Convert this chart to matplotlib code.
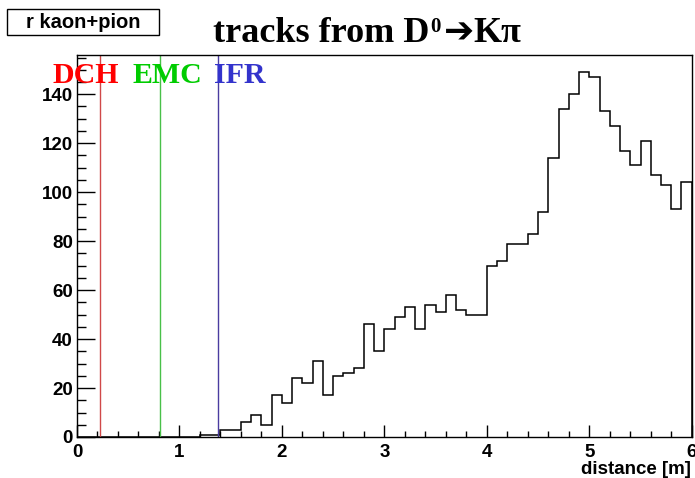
import numpy as np
import matplotlib
matplotlib.use("Agg")
from matplotlib import pyplot as plt
from matplotlib.patches import Rectangle
from matplotlib.ticker import MultipleLocator

# histogram contents, 60 bins of 0.1 m from 0 to 6 m
counts = [0, 0, 0, 0, 0, 0, 0, 0, 0, 0, 0, 0,
          1, 1, 3, 3, 6, 9, 5, 17, 14, 24,
          22, 31, 17, 25, 26, 28, 46, 35, 44, 49,
          53, 44, 54, 51, 58, 52, 50, 50, 70, 72,
          79, 79, 83, 92, 114, 134, 140, 149, 147, 133,
          127, 117, 111, 121, 107, 103, 93, 104]
x_min, x_max = 0.0, 6.0

# detector boundaries [m]
det_names = ['DCH', 'EMC', 'IFR']
det_pos = [0.225, 0.81, 1.38]
det_line_colors = ['#d04848', '#48c048', '#4a3ca0']
det_text_colors = ['#ff0000', '#00cc00', '#3333cc']

edges = np.linspace(x_min, x_max, len(counts) + 1)

fig = plt.figure(figsize=(6.95, 4.78), dpi=100)
ax = fig.add_axes([0.1108, 0.0858, 0.8845, 0.799])

ax.stairs(counts, edges, color='black', linewidth=1.1)
for pos, col in zip(det_pos, det_line_colors):
    ax.axvline(pos, color=col, linewidth=1.0)

ax.set_xlim(x_min, x_max)
ax.set_ylim(0, 156)

ax.xaxis.set_major_locator(MultipleLocator(1))
ax.xaxis.set_minor_locator(MultipleLocator(0.2))
ax.yaxis.set_major_locator(MultipleLocator(20))
ax.yaxis.set_minor_locator(MultipleLocator(5))
ax.tick_params(axis='both', which='both', direction='in', top=False, right=False)
ax.tick_params(axis='x', which='major', length=8.6, width=1, pad=5)
ax.tick_params(axis='x', which='minor', length=4.3, width=1)
ax.tick_params(axis='y', which='major', length=13, width=1, pad=3)
ax.tick_params(axis='y', which='minor', length=6.5, width=1)
for lab in ax.get_xticklabels() + ax.get_yticklabels():
    lab.set_fontfamily('Liberation Sans')
    lab.set_fontweight('bold')
    lab.set_fontsize(13.5)
for sp in ax.spines.values():
    sp.set_linewidth(1.0)

fig.text(0.994, 0.009, 'distance [m]', ha='right', va='baseline',
         family='Liberation Sans', weight='bold', fontsize=13.5)

# title box
fig.add_artist(Rectangle((0.0101, 0.9268), 0.2187, 0.0544, transform=fig.transFigure,
                         facecolor='white', edgecolor='black', linewidth=1.0))
fig.text(0.1194, 0.953, 'r kaon+pion', ha='center', va='center',
         family='Liberation Sans', weight='bold', fontsize=14.5)

# title built from pieces: text, superscript, arrow, text
renderer = fig.canvas.get_renderer()
inv = fig.transFigure.inverted()
x0, y_base = 0.306, 0.912
pieces = [('tracks from D', 26, 0.0, ['Liberation Serif'], 0.0),
          ('0', 15, 0.022, ['Liberation Serif'], 0.002),
          ('\u2794', 26, 0.0, ['DejaVu Sans'], 0.004),
          ('K\u03c0', 26, 0.0, ['Liberation Serif', 'DejaVu Serif'], 0.0)]
for txt, size, dy, fam, gap in pieces:
    t = fig.text(x0 + gap, y_base + dy, txt, ha='left', va='baseline',
                 family=fam, weight='bold', fontsize=size)
    bb = inv.transform(t.get_window_extent(renderer))
    x0 = bb[1][0]

# detector labels
x_txt = [0.075, 0.19, 0.308]
for name, col, xt in zip(det_names, det_text_colors, x_txt):
    fig.text(xt, 0.826, name, ha='left', va='baseline', color=col,
             family='Liberation Serif', weight='bold', fontsize=21.5)

fig.savefig('out.png', dpi=100)
